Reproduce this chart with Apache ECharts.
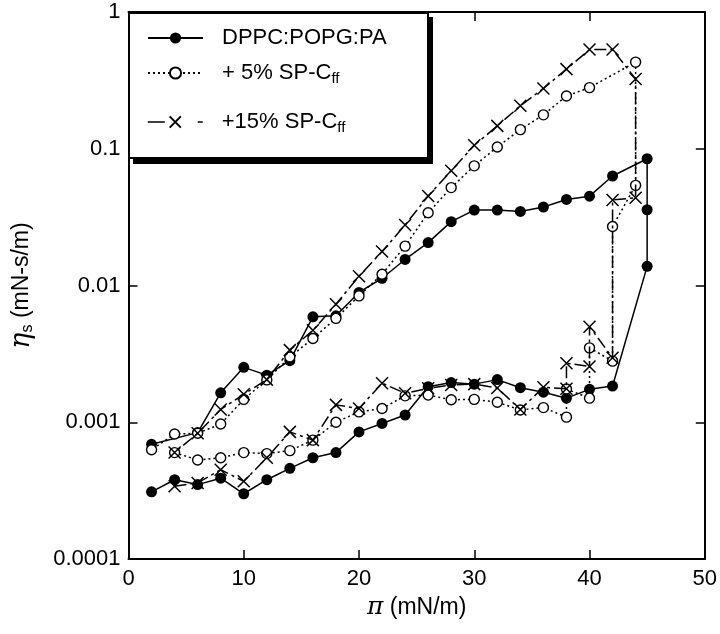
<!DOCTYPE html>
<html>
<head>
<meta charset="utf-8">
<script src="https://cdn.jsdelivr.net/npm/echarts@6/dist/echarts.min.js"></script>
<style>html,body{margin:0;padding:0;background:#fff;}#c{width:720px;height:634px;}</style>
</head>
<body>
<div id="c"></div>
<script>
const seriesNames = ['DPPC:POPG:PA', '+ 5% SP-Cff', '+15% SP-Cff'];
const legendMain = ['DPPC:POPG:PA', '+ 5% SP-C', '+15% SP-C'];
const legendSub = ['', 'ff', 'ff'];
const xTicks = [0, 10, 20, 30, 40, 50];
const yTickLabels = ['0.0001', '0.001', '0.01', '0.1', '1'];

// DPPC:POPG:PA  (lower branch up, jump at 45, upper branch back)
const dppcX = [2,4,6,8,10,12,14,16,18,20,22,24,26,28,30,32,34,36,38,40,42,45,45,45,42,40,38,36,34,32,30,28,26,24,22,20,18,16,14,12,10,8,6,2];
const dppcY = [0.00031,0.00038,0.00035,0.00039,0.00030,0.00038,0.00046,0.00055,0.00060,0.00085,0.00098,0.00113,0.00182,0.00195,0.0019,0.00205,0.00179,0.00166,0.0015,0.00174,0.00184,
  0.0138,0.0358,0.0845,
  0.0632,0.045,0.0426,0.0375,0.0348,0.0356,0.0356,0.0293,0.0206,0.0155,0.0113,0.0089,0.0060,0.0059,0.00282,0.00221,0.00252,0.00164,0.00084,0.00069];

// + 5% SP-Cff
const sp5X = [4,6,8,10,12,14,16,18,20,22,24,26,28,30,32,34,36,38,38,40,40,42,42,44,44,40,38,36,34,32,30,28,26,24,22,20,18,16,14,12,10,8,6,4,2];
const sp5Y = [0.0006,0.00053,0.00055,0.0006,0.00059,0.00062,0.00074,0.0010,0.00119,0.00126,0.00156,0.00158,0.00146,0.00147,0.0014,0.00123,0.00128,0.00109,0.00175,0.0015,0.0035,0.0028,
  0.027,0.054,0.43,
  0.28,0.243,0.177,0.138,0.103,0.075,0.052,0.034,0.0194,0.0121,0.0084,0.00575,0.0041,0.003,0.00204,0.00147,0.00097,0.00083,0.00082,0.00063];

// +15% SP-Cff
const sp15X = [4,6,8,10,12,14,16,18,20,22,24,26,28,30,32,34,36,38,38,40,40,42,42,44,44,42,40,38,36,34,32,30,28,26,24,22,20,18,16,14,12,10,8,6,4];
const sp15Y = [0.00034,0.00036,0.00045,0.00037,0.00055,0.00085,0.00074,0.00134,0.00126,0.00193,0.00163,0.00177,0.00187,0.0019,0.00178,0.00124,0.0018,0.00176,0.0027,0.00256,0.0050,0.00296,
  0.0422,0.0438,0.324,
  0.531,0.531,0.382,0.276,0.206,0.147,0.106,0.069,0.0451,0.0277,0.0177,0.0117,0.0073,0.0047,0.00337,0.00205,0.0016,0.00124,0.00083,0.0006];

const zip = (xs, ys) => xs.map((x, i) => [x, ys[i]]);
const FONT = "'Liberation Sans', Arial, sans-serif";
const crossPath = 'path://M0,0L10,10M10,0L0,10';

const chart = echarts.init(document.getElementById('c'), null, {renderer: 'canvas'});

const legendLabels = {};
seriesNames.forEach((n, i) => {
  legendLabels[n] = legendSub[i] ? '{a|' + legendMain[i] + '}{b|' + legendSub[i] + '}' : '{a|' + legendMain[i] + '}';
});

function mkLegend(item, top) {
  return {
    data: [item], left: 147, top: top, padding: 0, itemWidth: 55, itemHeight: 14,
    selectedMode: false, z: 10,
    formatter: n => legendLabels[n],
    textStyle: {
      color: '#000', fontFamily: FONT, fontSize: 22, padding: [0, 0, 0, 14],
      rich: {
        a: {fontSize: 22, fontFamily: FONT, color: '#000'},
        b: {fontSize: 15, fontFamily: FONT, color: '#000', padding: [12, 0, 0, 0]}
      }
    }
  };
}

const axisCommon = {
  axisLine: {show: true, onZero: false, lineStyle: {color: '#000', width: 2}},
  axisTick: {show: true, inside: true, length: 9, lineStyle: {color: '#000', width: 1.5}},
  splitLine: {show: false},
  minorTick: {show: false}
};

const option = {
  backgroundColor: '#fff',
  animation: false,
  grid: {left: 128, right: 14, top: 12, bottom: 75, containLabel: false},
  legend: [
    mkLegend({name: seriesNames[0]}, 27),
    mkLegend({name: seriesNames[1]}, 62),
    mkLegend({name: seriesNames[2], lineStyle: {type: [17, 33, 6, 10], width: 1.5}}, 111)
  ],
  graphic: [
    {type: 'rect', z: 5, shape: {x: 133, y: 17, width: 300, height: 147}, style: {fill: '#000'}},
    {type: 'rect', z: 6, shape: {x: 129, y: 13, width: 299, height: 145}, style: {fill: '#fff', stroke: '#000', lineWidth: 2}}
  ],
  xAxis: [
    Object.assign({
      type: 'value', min: xTicks[0], max: xTicks[xTicks.length - 1], interval: 10,
      axisLabel: {color: '#000', fontFamily: FONT, fontSize: 22, margin: 9,
        formatter: v => xTicks.indexOf(v) >= 0 ? String(v) : ''},
      name: '{pi|π} (mN/m)', nameLocation: 'middle', nameGap: 36,
      nameTextStyle: {color: '#000', fontFamily: FONT, fontSize: 23,
        rich: {pi: {fontSize: 25, fontFamily: "'DejaVu Serif', serif", fontStyle: 'italic', color: '#000'}}}
    }, axisCommon),
    Object.assign({
      type: 'value', position: 'top', min: 0, max: 50, interval: 10,
      axisLabel: {show: false}
    }, axisCommon)
  ],
  yAxis: [
    Object.assign({
      type: 'log', logBase: 10, min: 0.0001, max: 1,
      axisLabel: {color: '#000', fontFamily: FONT, fontSize: 22, margin: 8,
        formatter: v => {
          const k = Math.round(Math.log10(v)) + 4;
          return yTickLabels[k] !== undefined ? yTickLabels[k] : '';
        }},
      name: '{eta|η}{s|s} (mN-s/m)', nameLocation: 'middle', nameGap: 93, nameRotate: 90,
      nameTextStyle: {color: '#000', fontFamily: FONT, fontSize: 23,
        rich: {
          eta: {fontSize: 27, fontFamily: "'DejaVu Serif', serif", fontStyle: 'italic', color: '#000'},
          s: {fontSize: 16, fontFamily: FONT, color: '#000', padding: [12, 0, 0, 0]}
        }}
    }, axisCommon),
    Object.assign({
      type: 'log', logBase: 10, min: 0.0001, max: 1, position: 'right',
      axisLabel: {show: false}
    }, axisCommon)
  ],
  series: [
    {
      name: seriesNames[0], type: 'line', xAxisIndex: 0, yAxisIndex: 0,
      data: zip(dppcX, dppcY),
      symbol: 'circle', symbolSize: 11,
      itemStyle: {color: '#000'},
      lineStyle: {color: '#000', width: 1.5, type: 'solid'},
      z: 3
    },
    {
      name: seriesNames[1], type: 'line', xAxisIndex: 0, yAxisIndex: 0,
      data: zip(sp5X, sp5Y),
      symbol: 'circle', symbolSize: 10,
      itemStyle: {color: '#fff', borderColor: '#000', borderWidth: 1.4},
      lineStyle: {color: '#000', width: 1.5, type: [2, 3]},
      z: 4
    },
    {
      name: seriesNames[2], type: 'line', xAxisIndex: 0, yAxisIndex: 0,
      data: zip(sp15X, sp15Y),
      symbol: crossPath, symbolSize: 12,
      itemStyle: {color: '#000', borderColor: '#000', borderWidth: 1.5},
      lineStyle: {color: '#000', width: 1.5, type: [12, 4, 3, 4]},
      z: 5
    }
  ]
};
chart.setOption(option);
</script>
</body>
</html>
